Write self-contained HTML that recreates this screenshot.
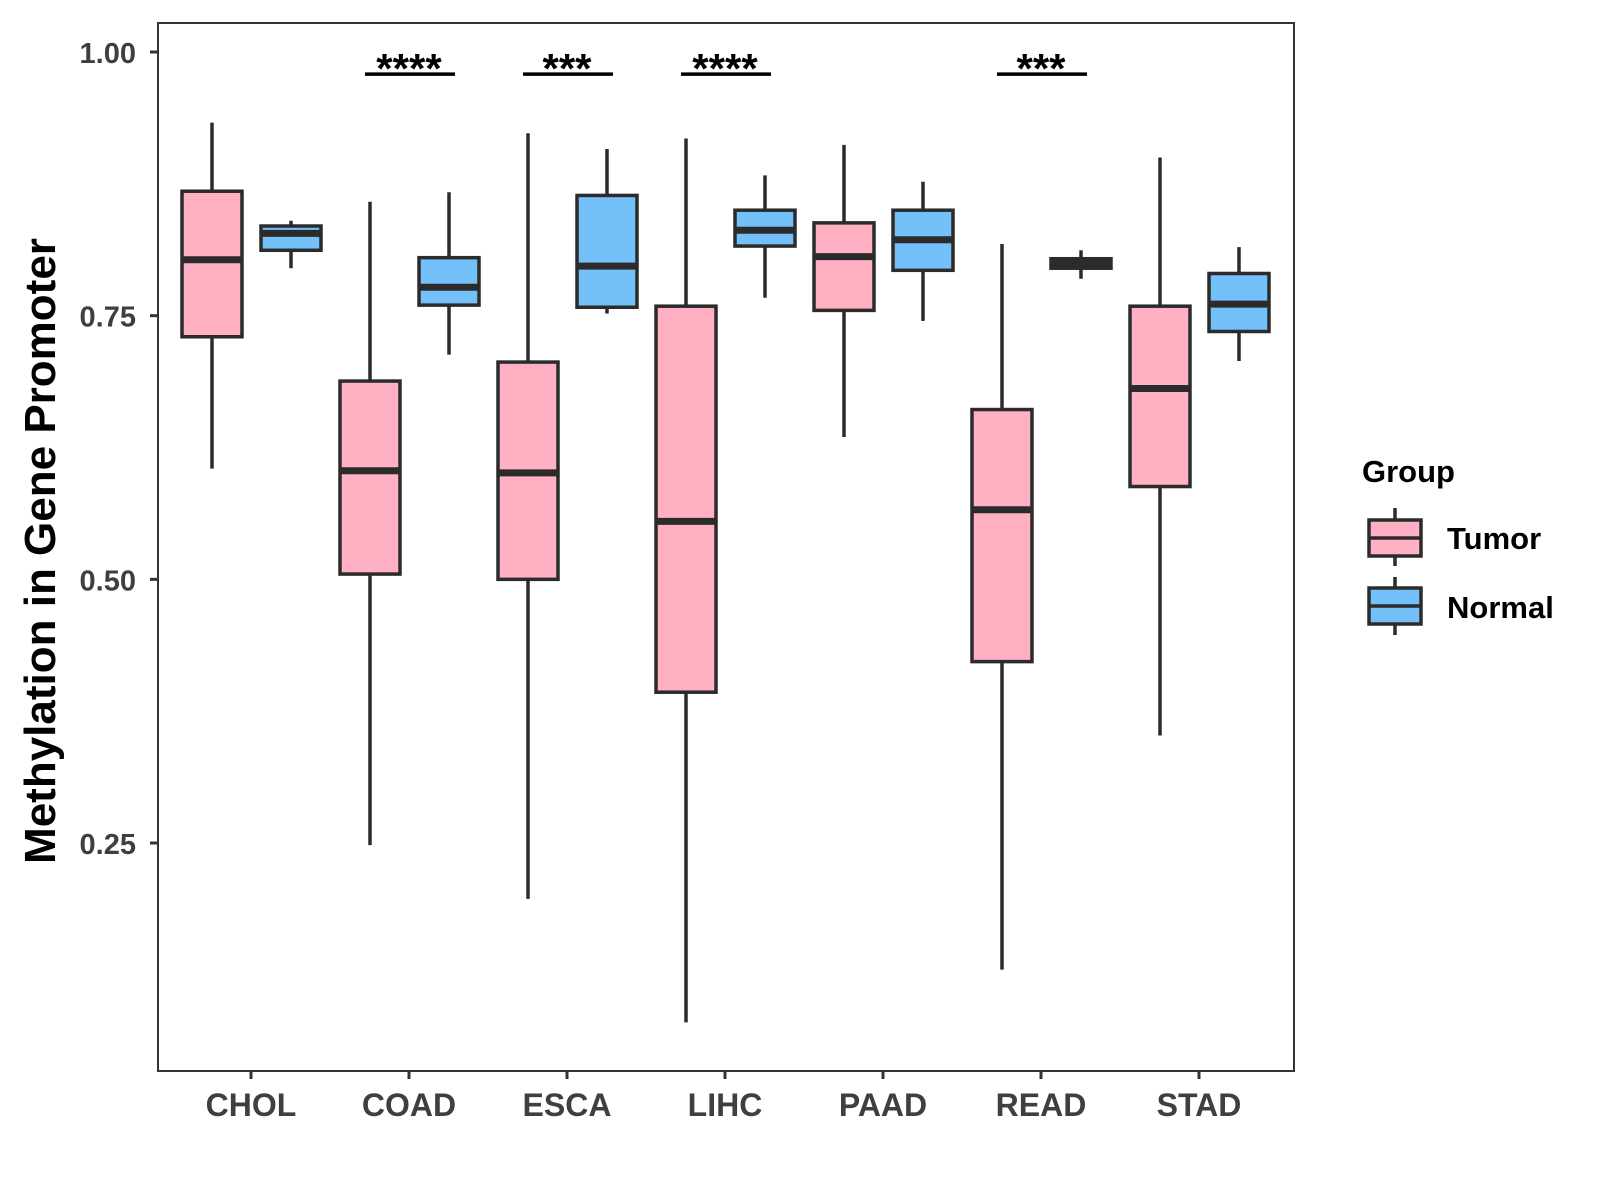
<!DOCTYPE html>
<html><head><meta charset="utf-8"><style>
html,body{margin:0;padding:0;background:#fff;}
svg{display:block;font-family:"Liberation Sans",Arial,sans-serif;}
</style></head><body>
<svg id="chart" width="1600" height="1200" viewBox="0 0 1600 1200" xmlns="http://www.w3.org/2000/svg">
<rect x="0" y="0" width="1600" height="1200" fill="#fff"/>
<g id="marks"></g>
<rect x="158" y="23" width="1136" height="1048" fill="none" stroke="#333" stroke-width="2"/>
<g id="axes"></g>
<text transform="translate(55,551) rotate(-90)" text-anchor="middle" font-size="44" font-weight="bold" fill="#000">Methylation in Gene Promoter</text>
<g>
<text x="1362" y="482" font-size="31" font-weight="bold" fill="#000">Group</text>
<g>
<line x1="1395" y1="508" x2="1395" y2="566" stroke="#2b2b2b" stroke-width="3.5"/>
<rect x="1369" y="520" width="52" height="36" fill="#FFB0C2" stroke="#2b2b2b" stroke-width="3.5"/>
<line x1="1369" y1="538" x2="1421" y2="538" stroke="#2b2b2b" stroke-width="3.5"/>
<text x="1447" y="549" font-size="31" font-weight="bold" fill="#000">Tumor</text>
</g>
<g>
<line x1="1395" y1="577" x2="1395" y2="635" stroke="#2b2b2b" stroke-width="3.5"/>
<rect x="1369" y="588" width="52" height="36" fill="#74C0F8" stroke="#2b2b2b" stroke-width="3.5"/>
<line x1="1369" y1="606" x2="1421" y2="606" stroke="#2b2b2b" stroke-width="3.5"/>
<text x="1447" y="618" font-size="31" font-weight="bold" fill="#000">Normal</text>
</g>
</g>
</svg>
<script>
const categories = ["CHOL","COAD","ESCA","LIHC","PAAD","READ","STAD"];
// [whiskerLow, q1, median, q3, whiskerHigh]
const tumorStats = [
  [0.605,0.730,0.803,0.868,0.933],
  [0.248,0.505,0.603,0.688,0.858],
  [0.197,0.500,0.601,0.706,0.923],
  [0.080,0.393,0.555,0.759,0.918],
  [0.635,0.755,0.806,0.838,0.912],
  [0.130,0.422,0.566,0.661,0.818],
  [0.352,0.588,0.681,0.759,0.900]
];
const normalStats = [
  [0.795,0.812,0.828,0.835,0.840],
  [0.713,0.760,0.777,0.805,0.867],
  [0.752,0.758,0.797,0.864,0.908],
  [0.767,0.816,0.831,0.850,0.883],
  [0.745,0.793,0.822,0.850,0.877],
  [0.785,0.795,0.800,0.804,0.812],
  [0.707,0.735,0.761,0.790,0.815]
];
const yTicks = [0.25,0.50,0.75,1.00];
const yTickLabels = ["0.25","0.50","0.75","1.00"];
const sigLabels = ["","****","***","****","","***",""];
const sigLevel = 0.979;

const NS="http://www.w3.org/2000/svg";
function y(v){ return 52 + (1 - v) * 1054.7; }
function x(i){ return 251 + i * 158; }
function mk(tag, attrs, parent){
  const e=document.createElementNS(NS,tag);
  for(const k in attrs) e.setAttribute(k, attrs[k]);
  parent.appendChild(e); return e;
}
const marks=document.getElementById('marks');
const axes=document.getElementById('axes');
const C="#2b2b2b";
function drawBox(cx, s, fill, name){
  const g=mk('g',{},marks);
  
  
  mk('line',{x1:cx,x2:cx,y1:y(s[4]),y2:y(s[3]),stroke:C,'stroke-width':3.5},g);
  mk('line',{x1:cx,x2:cx,y1:y(s[1]),y2:y(s[0]),stroke:C,'stroke-width':3.5},g);
  mk('rect',{x:cx-30,y:y(s[3]),width:60,height:Math.max(1,y(s[1])-y(s[3])),fill:fill,stroke:C,'stroke-width':3.5},g);
  mk('line',{x1:cx-30,x2:cx+30,y1:y(s[2]),y2:y(s[2]),stroke:C,'stroke-width':7},g);
}
categories.forEach((c,i)=>{
  drawBox(x(i)-39, tumorStats[i], "#FFB0C2", "box-tumor-"+c.toLowerCase());
  drawBox(x(i)+40, normalStats[i], "#74C0F8", "box-normal-"+c.toLowerCase());
  if(sigLabels[i]){
    const g=mk('g',{},marks);
    
    
    mk('line',{x1:x(i)-44,x2:x(i)+46,y1:y(sigLevel),y2:y(sigLevel),stroke:"#000",'stroke-width':3.5},g);
    const t=mk('text',{x:x(i),y:83,'text-anchor':'middle','font-size':42,'font-weight':'bold',fill:'#000'},g);
    t.textContent=sigLabels[i];
  }
  mk('line',{x1:x(i),x2:x(i),y1:1071,y2:1079,stroke:"#333",'stroke-width':3},axes);
  const lt=mk('text',{x:x(i),y:1116,'text-anchor':'middle','font-size':32,'font-weight':'bold',fill:'#3f3f3f'},axes);
  
  
  lt.textContent=c;
});
yTicks.forEach((v,i)=>{
  mk('line',{x1:150,x2:158,y1:y(v),y2:y(v),stroke:"#333",'stroke-width':3},axes);
  const t=mk('text',{x:136,y:y(v)+11,'text-anchor':'end','font-size':29,'font-weight':'bold',fill:'#3f3f3f'},axes);
  
  
  t.textContent=yTickLabels[i];
});
</script>
</body></html>
